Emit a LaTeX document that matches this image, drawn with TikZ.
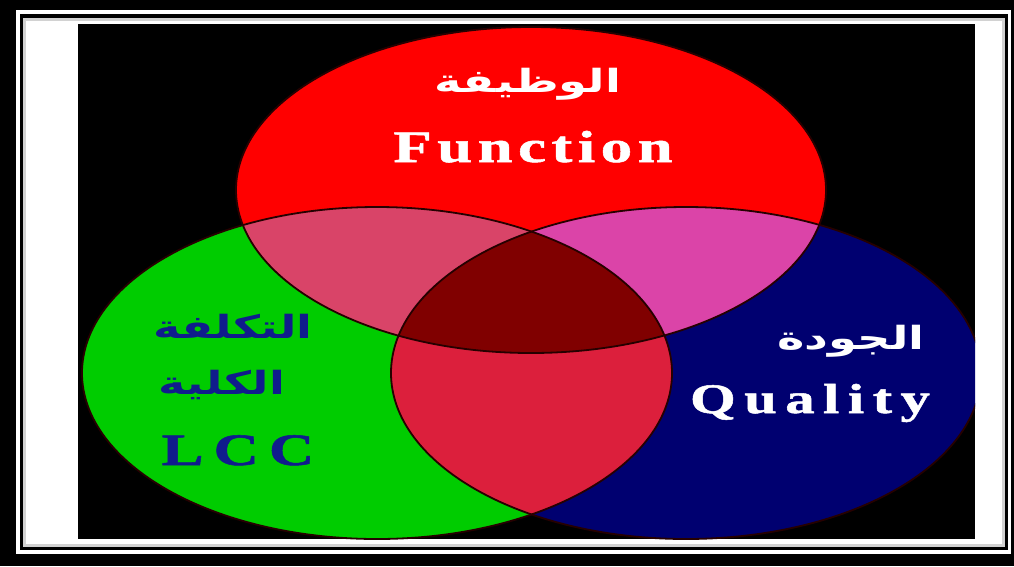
\documentclass[tikz,border=0pt]{standalone}
\usepackage{fontspec}
\newfontfamily\latinfont[FakeStretch=1.4, FakeBold=1.2]{Liberation Serif Bold}
\newfontfamily\arabicfont[Script=Arabic, FakeStretch=1.45]{DejaVu Sans}
\TeXXeTstate=1

\definecolor{fnred}{RGB}{255,0,0}
\definecolor{lccgreen}{RGB}{0,204,0}
\definecolor{qualblue}{RGB}{0,0,112}
\definecolor{fnlcc}{RGB}{217,68,104}
\definecolor{fnqual}{RGB}{219,68,168}
\definecolor{lccqual}{RGB}{220,31,60}
\definecolor{allthree}{RGB}{128,0,0}
\definecolor{lcctext}{RGB}{16,28,140}

\newcommand\fnset{(531,190) ellipse [x radius=295pt, y radius=163pt]}
\newcommand\lccset{(377,373) ellipse [x radius=295pt, y radius=166pt]}
\newcommand\qualset{(686,373) ellipse [x radius=295pt, y radius=166pt]}

\begin{document}
\begin{tikzpicture}[x=1pt, y=-1pt,
    venn/.style={draw=black!85!red, line width=1.8pt},
    latin/.style n args={2}{font={\latinfont\fontsize{#1}{#1}\selectfont\addfontfeature{LetterSpace=#2}}, inner sep=0pt, anchor=base},
    arab/.style={font=\arabicfont\bfseries\fontsize{32}{38}\selectfont, inner sep=0pt},
  ]
  \useasboundingbox (0,0) rectangle (1014,566);
  % frame
  \fill[black] (0,0) rectangle (1014,566);
  \fill[white] (16,10) rectangle (1011,554);
  \fill[black] (20,14) rectangle (1008,550);
  \fill[white] (23,18) rectangle (1005,547);
  \draw[gray!35, line width=3pt] (24.5,19.5) rectangle (1003.5,545.5);
  \fill[black] (78,24) rectangle (975,539);

  % three sets
  \begin{scope}
    \clip (78,24) rectangle (975,539);
    \fill[lccgreen] \lccset;
    \fill[qualblue] \qualset;
    \fill[fnred] \fnset;
    \begin{scope}
      \clip \lccset;
      \fill[lccqual] \qualset;
    \end{scope}
    \begin{scope}
      \clip \fnset;
      \fill[fnlcc] \lccset;
      \fill[fnqual] \qualset;
      \clip \lccset;
      \fill[allthree] \qualset;
    \end{scope}
    \draw[venn] \lccset;
    \draw[venn] \qualset;
    \draw[venn] \fnset;
  \end{scope}

  % labels
  \node[arab, text=white] (fnar) at (528,84) {\beginR الوظيفة\endR};
  \node[latin={45}{12}, text=white] (fn) at (533,162) {Function};
  \node[arab, text=lcctext] (lccar1) at (233,326) {\beginR التكلفة\endR};
  \node[arab, text=lcctext] (lccar2) at (222,385) {\beginR الكلية\endR};
  \node[latin={45}{22}, text=lcctext] (lcc) at (238,465) {LCC};
  \node[arab, text=white] (qualar) at (851,341) {\beginR الجودة\endR};
  \node[latin={42}{20}, text=white] (qual) at (810,413) {Quality};
\end{tikzpicture}
\end{document}
